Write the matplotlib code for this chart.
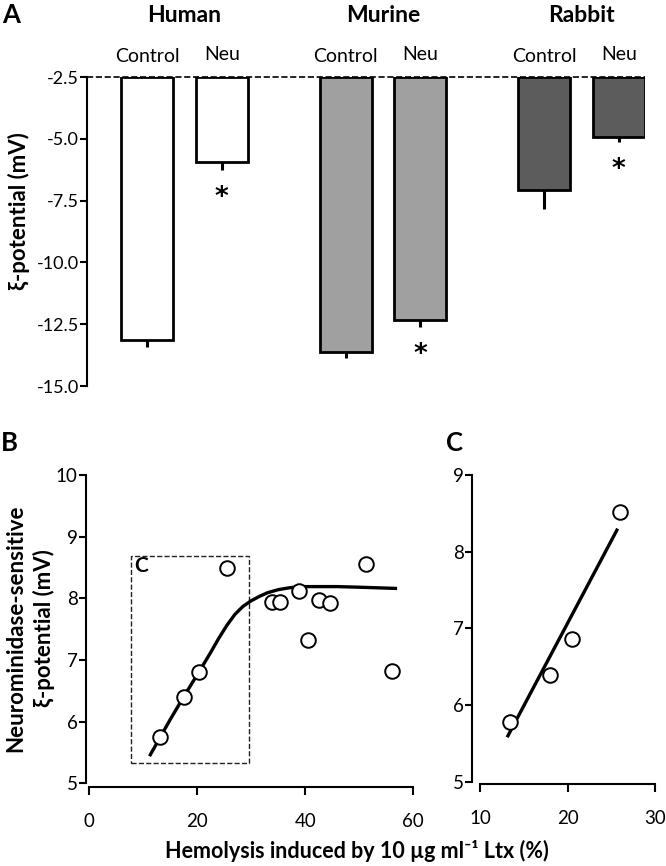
import matplotlib
matplotlib.use("Agg")
import matplotlib.pyplot as plt
from matplotlib.patches import Rectangle
from matplotlib.transforms import blended_transform_factory

plt.rcParams["font.family"] = ["Lato", "DejaVu Sans"]

# ---------------- Data ----------------
species = ["Human", "Murine", "Rabbit"]
conditions = ["Control", "Neu"]
zeta_mean = [-13.15, -5.93, -13.62, -12.32, -7.07, -4.93]
zeta_err = [0.28, 0.32, 0.25, 0.28, 0.78, 0.20]
significant = [False, True, False, True, False, True]
bar_colors = ["white", "white", "#a0a0a0", "#a0a0a0", "#5c5c5c", "#5c5c5c"]
baseline = -2.5

hemo_b = [13.1, 17.5, 20.3, 25.6, 33.8, 35.4, 38.9, 40.6, 42.5, 44.5, 51.2, 56.0]
zeta_b = [5.75, 6.40, 6.80, 8.49, 7.94, 7.94, 8.12, 7.32, 7.97, 7.92, 8.56, 6.82]
fit_b_x = [11.2, 13.0, 15.0, 17.5, 20.3, 22.5, 24.0, 25.5, 27.0, 28.5, 30.0,
           31.5, 33.0, 35.0, 37.0, 39.0, 42.0, 46.0, 50.0, 57.0]
fit_b_y = [5.44, 5.72, 6.03, 6.40, 6.80, 7.12, 7.35, 7.56, 7.74, 7.87, 7.96,
           8.03, 8.09, 8.14, 8.17, 8.19, 8.19, 8.19, 8.18, 8.16]

hemo_c = [13.4, 18.0, 20.5, 26.0]
zeta_c = [5.78, 6.39, 6.86, 8.52]
fit_c_x = [13.1, 25.7]
fit_c_y = [5.58, 8.30]

W, H = 666, 866
fig = plt.figure(figsize=(W / 100, H / 100), dpi=100)


def fx(px):
    return px / W


def fy(py):
    return 1 - py / H


# ---------------- Panel A ----------------
axA = fig.add_axes([fx(87), fy(386), fx(645) - fx(87), fy(77) - fy(386)])
pos = [g * 2.58 + i * 0.97 for g in range(len(species)) for i in range(len(conditions))]
heights = [m - baseline for m in zeta_mean]
axA.bar(pos, heights, bottom=baseline, width=0.675, color=bar_colors,
        edgecolor="black", linewidth=2, zorder=3)
axA.errorbar(pos, zeta_mean, yerr=[zeta_err, [0] * len(zeta_err)], fmt="none",
             ecolor="black", elinewidth=2.2, capsize=0, zorder=2)
axA.axhline(baseline, color="black", ls="--", lw=1.2, zorder=4, clip_on=False)
for p, m, e, s in zip(pos, zeta_mean, zeta_err, significant):
    if s:
        axA.annotate("*", xy=(p, m - e - 0.85), xytext=(0, -10),
                     textcoords="offset points", ha="center", va="baseline",
                     fontsize=19, fontweight="bold", family="DejaVu Sans")

axA.set_xlim(-0.78, 6.47)
axA.set_ylim(-15, -2.5)
axA.set_yticks([-2.5, -5.0, -7.5, -10.0, -12.5, -15.0])
axA.set_yticklabels(["-2.5", "-5.0", "-7.5", "-10.0", "-12.5", "-15.0"])
axA.set_xticks([])
for side in ["top", "right", "bottom"]:
    axA.spines[side].set_visible(False)
axA.spines["left"].set_linewidth(1.5)
axA.tick_params(axis="y", direction="out", length=5, width=1.5, labelsize=13, pad=1)
axA.set_ylabel("ξ-potential (mV)", fontsize=16, fontweight="bold", va="center")
axA.yaxis.set_label_coords(-0.122, 0.566)

trA = blended_transform_factory(axA.transData, fig.transFigure)
for g, name in enumerate(species):
    cx = (pos[2 * g] + pos[2 * g + 1]) / 2
    axA.text(cx, fy(16), name, transform=trA, ha="center", va="center",
             fontsize=16.5, fontweight="bold")
for i, p in enumerate(pos):
    label = conditions[i % 2]
    yy = fy(57) if label == "Control" else fy(54)
    axA.text(p, yy, label, transform=trA, ha="center", va="center", fontsize=14)

# ---------------- Panel B ----------------
axB = fig.add_axes([fx(86), fy(787), fx(416) - fx(86), fy(475) - fy(787)])
axB.plot(fit_b_x, fit_b_y, color="black", lw=2.4, zorder=2,
         solid_capstyle="butt", solid_joinstyle="round")
axB.plot(hemo_b, zeta_b, "o", ms=10.5, mfc="white", mec="black", mew=1.4, zorder=3)
axB.add_patch(Rectangle((7.8, 5.33), 21.8, 3.36, fill=False, ls="--", lw=1.0,
                        edgecolor="#222222", zorder=1))
axB.text(8.4, 8.53, "C", ha="left", va="center", fontsize=15, fontweight="bold")
axB.set_xlim(-0.55, 60.5)
axB.set_ylim(4.94, 10)
axB.set_xticks([0, 20, 40, 60])
axB.set_yticks([5, 6, 7, 8, 9, 10])
axB.spines["left"].set_bounds(5, 10)
axB.spines["bottom"].set_bounds(0, 60)
axB.set_ylabel("Neurominidase-sensitive\nξ-potential (mV)", fontsize=16,
               fontweight="bold", va="center", linespacing=1.35)
axB.yaxis.set_label_coords(-0.17, 0.51)

# ---------------- Panel C ----------------
axC = fig.add_axes([fx(472), fy(784), fx(658) - fx(472), fy(475) - fy(784)])
axC.plot(fit_c_x, fit_c_y, color="black", lw=2.4, zorder=2, solid_capstyle="butt")
axC.plot(hemo_c, zeta_c, "o", ms=10.5, mfc="white", mec="black", mew=1.4, zorder=3)
axC.set_xlim(9.09, 30.3)
axC.set_ylim(4.97, 9)
axC.set_xticks([10, 20, 30])
axC.set_yticks([5, 6, 7, 8, 9])
axC.spines["left"].set_bounds(5, 9)
axC.spines["bottom"].set_bounds(10, 30)

for ax in (axB, axC):
    for side in ["top", "right"]:
        ax.spines[side].set_visible(False)
    for side in ["left", "bottom"]:
        ax.spines[side].set_linewidth(1.5)
    ax.tick_params(axis="y", direction="out", length=5, width=1.5, labelsize=13.5, pad=1)
    ax.tick_params(axis="x", direction="out", length=6, width=1.5, labelsize=13.5, pad=13)

# ---------------- Shared labels ----------------
fig.text(fx(357), fy(851), "Hemolysis induced by 10 µg ml⁻¹ Ltx (%)", ha="center",
         va="center", fontsize=15.5, fontweight="bold")
fig.text(fx(2), fy(15), "A", ha="left", va="center", fontsize=18.5, fontweight="bold")
fig.text(fx(1), fy(443), "B", ha="left", va="center", fontsize=18.5, fontweight="bold")
fig.text(fx(446), fy(443), "C", ha="left", va="center", fontsize=18.5, fontweight="bold")

fig.savefig("out.png", dpi=100)
plt.close(fig)
